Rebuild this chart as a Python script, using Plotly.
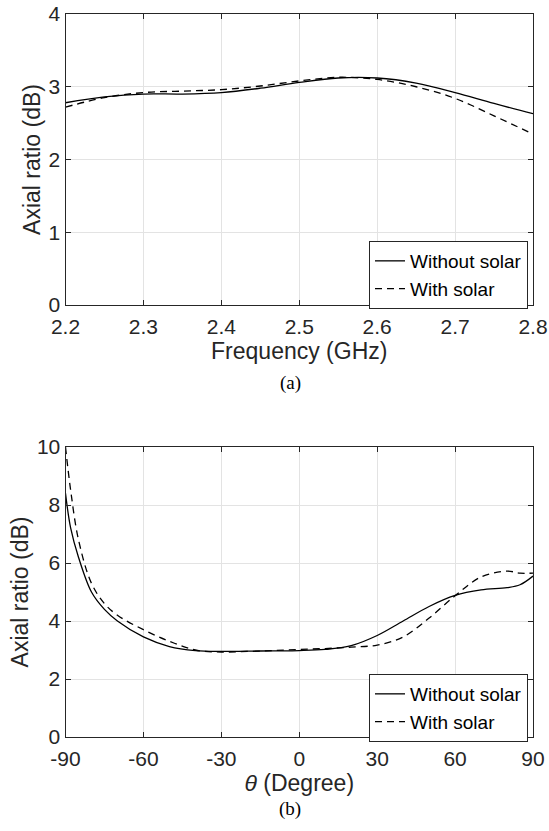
import plotly.graph_objects as go

# Panel (a): axial ratio vs frequency
freq = [2.2, 2.25, 2.3, 2.35, 2.4, 2.45, 2.5, 2.55, 2.6, 2.65, 2.7, 2.75, 2.8]
ar_without_a = [2.78, 2.86, 2.90, 2.90, 2.92, 2.98, 3.06, 3.12, 3.12, 3.05, 2.92, 2.77, 2.63]
ar_with_a = [2.72, 2.85, 2.92, 2.94, 2.96, 3.01, 3.08, 3.13, 3.10, 3.00, 2.84, 2.60, 2.35]

# Panel (b): axial ratio vs theta
theta_wo = [-90, -88, -85, -80, -75, -70, -60, -50, -40, -30, -20, -10, 0, 10, 20, 30, 40, 50, 60, 70, 80, 85, 90]
ar_without_b = [8.4, 7.2, 6.2, 5.0, 4.4, 4.0, 3.45, 3.12, 2.98, 2.95, 2.96, 2.97, 2.98, 3.02, 3.15, 3.5, 4.0, 4.5, 4.88, 5.07, 5.15, 5.25, 5.55]
theta_w = [-90, -88, -85, -80, -75, -70, -60, -50, -40, -30, -20, -10, 0, 10, 20, 30, 40, 50, 60, 70, 80, 85, 90]
ar_with_b = [10.0, 8.5, 6.8, 5.3, 4.6, 4.2, 3.7, 3.3, 3.0, 2.93, 2.95, 2.98, 3.02, 3.05, 3.1, 3.17, 3.45, 4.1, 4.87, 5.52, 5.72, 5.65, 5.65]

xa_ticks = [2.2, 2.3, 2.4, 2.5, 2.6, 2.7, 2.8]
xa_labels = ["2.2", "2.3", "2.4", "2.5", "2.6", "2.7", "2.8"]
xb_ticks = [-90, -60, -30, 0, 30, 60, 90]
xb_labels = ["-90", "-60", "-30", "0", "30", "60", "90"]

FONT = "Liberation Sans, Arial, sans-serif"
SERIF = "Liberation Serif, Times New Roman, serif"
AXC = "#262626"
GRID = "#e3e3e3"

fig = go.Figure()

line_solid = dict(color="black", width=1.3, shape="spline", smoothing=1.0)
line_dash = dict(color="black", width=1.3, dash="7px,5px", shape="spline", smoothing=1.0)

fig.add_trace(go.Scatter(x=freq, y=ar_without_a, mode="lines", name="Without solar",
                         line=line_solid, xaxis="x", yaxis="y", legend="legend"))
fig.add_trace(go.Scatter(x=freq, y=ar_with_a, mode="lines", name="With solar",
                         line=line_dash, xaxis="x", yaxis="y", legend="legend"))
fig.add_trace(go.Scatter(x=theta_wo, y=ar_without_b, mode="lines", name="Without solar",
                         line=line_solid, xaxis="x2", yaxis="y2", legend="legend2"))
fig.add_trace(go.Scatter(x=theta_w, y=ar_with_b, mode="lines", name="With solar",
                         line=line_dash, xaxis="x2", yaxis="y2", legend="legend2"))

W, H = 549, 831
xdom = [65.5 / W, 533 / W]
ydom_a = [1 - 305 / H, 1 - 14 / H]
ydom_b = [1 - 737 / H, 1 - 447 / H]

axis_common = dict(showline=True, linecolor=AXC, linewidth=1, mirror="ticks",
                   ticks="inside", ticklen=5, tickcolor=AXC, showgrid=True,
                   gridcolor=GRID, gridwidth=1, zeroline=False, automargin=False,
                   ticklabeloverflow="allow",
                   tickfont=dict(family=FONT, size=21, color=AXC))
title_font = dict(family=FONT, size=23, color=AXC)
leg_common = dict(xanchor="right", yanchor="middle", bgcolor="white", bordercolor=AXC,
                  borderwidth=1, font=dict(family=FONT, size=19, color="black"),
                  tracegroupgap=0, itemwidth=30)

fig.update_layout(
    width=W, height=H,
    margin=dict(l=0, r=0, t=0, b=0),
    paper_bgcolor="white", plot_bgcolor="white",
    xaxis=dict(domain=xdom, anchor="y", range=[2.2, 2.8], tickvals=xa_ticks,
               ticktext=xa_labels, ticklabelstandoff=3,
               title=dict(text="Frequency (GHz)", font=title_font, standoff=0), **axis_common),
    yaxis=dict(domain=ydom_a, anchor="x", range=[0, 4], tickvals=[0, 1, 2, 3, 4],
               title=dict(text="Axial ratio (dB)", font=title_font, standoff=1), **axis_common),
    xaxis2=dict(domain=xdom, anchor="y2", range=[-90, 90], tickvals=xb_ticks,
                ticktext=xb_labels, ticklabelstandoff=3,
                title=dict(text="<i>θ</i> (Degree)", font=title_font, standoff=0), **axis_common),
    yaxis2=dict(domain=ydom_b, anchor="x2", range=[0, 10], tickvals=[0, 2, 4, 6, 8, 10],
                title=dict(text="Axial ratio (dB)", font=title_font, standoff=1), **axis_common),
    legend=dict(x=528 / W, y=1 - 275 / H, **leg_common),
    legend2=dict(x=528 / W, y=1 - 708 / H, **leg_common),
    showlegend=True,
    annotations=[
        dict(text="(a)", x=290 / W, y=1 - 383 / H, xref="paper", yref="paper",
             xanchor="center", yanchor="middle",
             showarrow=False, font=dict(family=SERIF, size=19, color="black")),
        dict(text="(b)", x=290 / W, y=1 - 809 / H, xref="paper", yref="paper",
             xanchor="center", yanchor="middle",
             showarrow=False, font=dict(family=SERIF, size=19, color="black")),
    ],
)

fig.write_html("out.html")
